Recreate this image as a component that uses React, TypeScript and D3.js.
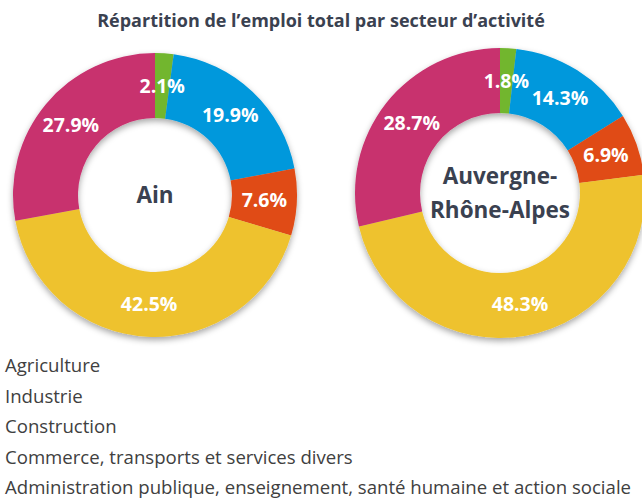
import React from "react";
import { pie, arc, PieArcDatum } from "d3";

const sectors = [
  "Agriculture",
  "Industrie",
  "Construction",
  "Commerce, transports et services divers",
  "Administration publique, enseignement, santé humaine et action sociale",
];
const colors = ["#72b62e", "#0098dc", "#e04b14", "#eec22e", "#c8306e"];
const ainValues = [2.1, 19.9, 7.6, 42.5, 27.9];
const araValues = [1.8, 14.3, 6.9, 48.3, 28.7];

const title = "Répartition de l’emploi total par secteur d’activité";
const FONT = "'Open Sans', sans-serif";

type Donut = {
  values: number[];
  cx: number;
  cy: number;
  outer: number;
  inner: number;
  label: string[];
};

const donuts: Donut[] = [
  { values: ainValues, cx: 155, cy: 195, outer: 142, inner: 77, label: ["Ain"] },
  { values: araValues, cx: 500, cy: 193, outer: 145, inner: 80, label: ["Auvergne-", "Rhône-Alpes"] },
];

const pieGen = pie<number>().sort(null).value((d) => d);

function DonutChart({ d }: { d: Donut }) {
  const arcs = pieGen(d.values);
  const arcGen = arc<PieArcDatum<number>>().innerRadius(d.inner).outerRadius(d.outer);
  const lh = 34;
  const y0 = -((d.label.length - 1) * lh) / 2;
  return (
    <g transform={`translate(${d.cx},${d.cy})`}>
      <g filter="url(#shadow)">
        {arcs.map((a, i) => (
          <path key={i} d={arcGen(a) || ""} fill={colors[i]} />
        ))}
      </g>
      {arcs.map((a, i) => {
        const [x, y] = arcGen.centroid(a);
        return (
          <text
            key={"l" + i}
            x={x}
            y={y}
            dy="0.35em"
            textAnchor="middle"
            fill="#fff"
            fontWeight="bold"
            fontSize={19.5}
            fontFamily={FONT}
          >
            {a.data.toFixed(1)}%
          </text>
        );
      })}
      {d.label.map((t, i) => (
        <text
          key={"c" + i}
          x={0}
          y={y0 + i * lh}
          dy="0.35em"
          textAnchor="middle"
          fill="#3a4150"
          fontWeight="bold"
          fontSize={22.5}
          fontFamily={FONT}
        >
          {t}
        </text>
      ))}
    </g>
  );
}

export default function App() {
  return (
    <svg
      width={642}
      height={498}
      style={{ position: "absolute", left: 0, top: 0, background: "#fff" }}
    >
      <defs>
        <filter id="shadow" x="-20%" y="-20%" width="140%" height="150%">
          <feDropShadow dx="0" dy="3" stdDeviation="3" floodColor="#000" floodOpacity="0.35" />
        </filter>
      </defs>
      <text
        x={321}
        y={27}
        textAnchor="middle"
        fill="#3a4150"
        fontWeight="bold"
        fontSize={18}
        fontFamily={FONT}
      >
        {title}
      </text>
      {donuts.map((d, i) => (
        <DonutChart key={i} d={d} />
      ))}
      {sectors.map((s, i) => (
        <text
          key={s}
          x={5}
          y={372 + i * 30.5}
          fill="#404040"
          fontSize={18.6}
          fontFamily={FONT}
        >
          {s}
        </text>
      ))}
    </svg>
  );
}
